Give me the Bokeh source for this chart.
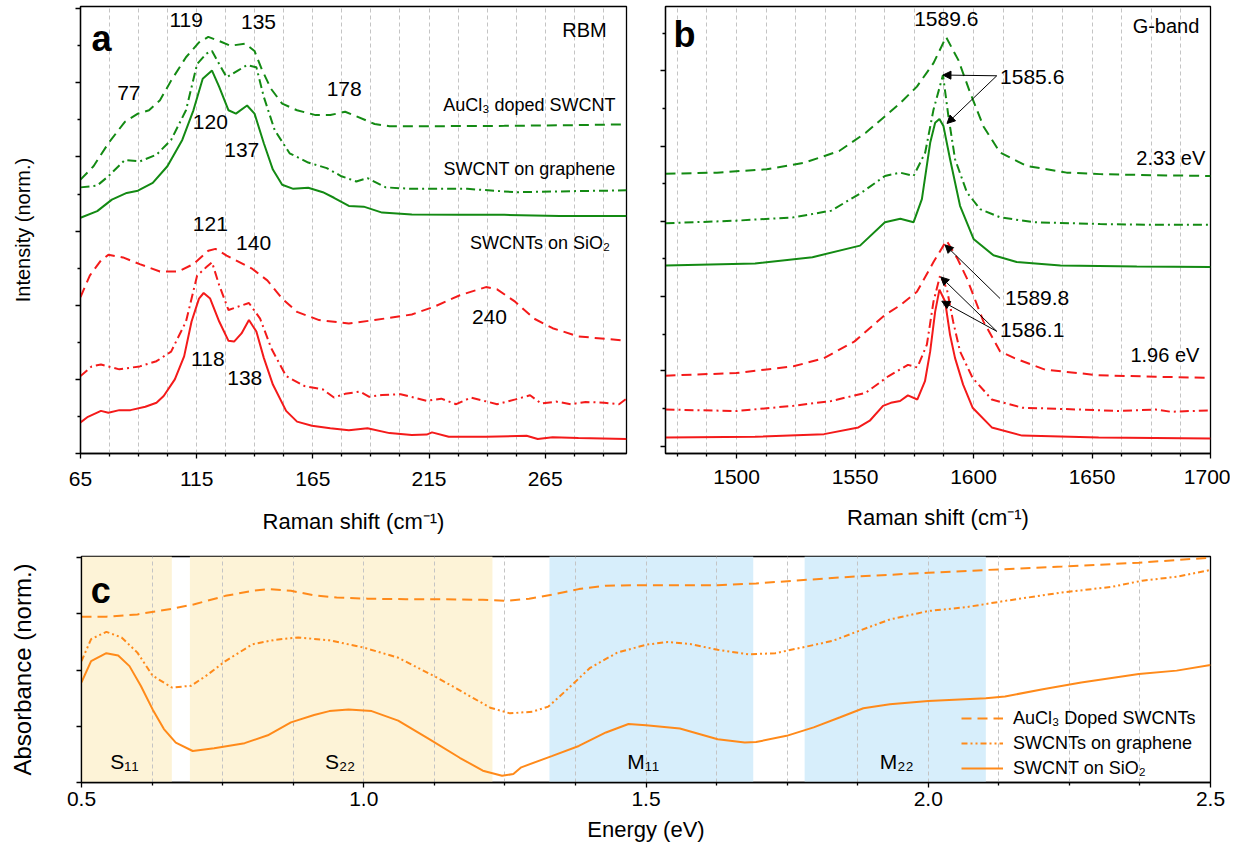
import math
from bokeh.plotting import figure
from bokeh.models import (Range1d, FixedTicker, CustomJSTickFormatter, Arrow,
                          NormalHead, ColumnDataSource, NumeralTickFormatter)
from bokeh.layouts import column, row
from bokeh.embed import file_html
from bokeh.resources import INLINE
from bokeh.core.properties import value

FONT = "Liberation Sans"
GREEN = "#138a13"
RED = "#f41a1a"
ORANGE = "#ff8a1a"
GRID = "#c4c4c4"
DASH = "10 6"
DASHDOT = "9 4 2 4"
DASHDOTDOT = "6 3 2 3 2 3"

# ---------------- Panel a : RBM ----------------
a_x_doped = [65, 70.6, 77, 84.1, 89.7, 94.5, 99.2, 104, 110.4, 116, 120, 124.7, 129.5, 135.9, 139.9,
             143, 147, 151.8, 158.2, 166.2, 172.5, 178.9, 183.7, 191.6, 198, 215.5, 247.4, 279.3, 300]
a_y_doped = [7.39, 7.75, 8.37, 8.95, 9.17, 9.26, 9.53, 10.06, 10.69, 11.09, 11.24, 11.13, 11.0, 11.06, 10.86,
             10.37, 9.84, 9.44, 9.26, 9.13, 9.13, 9.22, 9.1, 8.89, 8.83, 8.83, 8.84, 8.86, 8.88]
a_x_graph = [65, 72.2, 77, 84.1, 90.5, 97.7, 104, 110.4, 115.2, 119.2, 121.6, 124.7, 127.9, 132.7, 136.7,
             140.7, 143.9, 148.6, 155, 163, 171, 177.3, 183.7, 188.5, 196.4, 207.6, 231.5, 252.2, 279.3, 300]
a_y_graph = [7.18, 7.23, 7.48, 7.92, 7.88, 8.06, 8.46, 9.26, 10.51, 10.79, 10.86, 10.51, 10.15, 10.33, 10.48,
             10.42, 9.62, 8.72, 8.10, 7.85, 7.70, 7.48, 7.34, 7.43, 7.18, 7.14, 7.14, 7.05, 7.08, 7.10]
a_x_sio2 = [65, 72.2, 78.5, 84.9, 89.7, 96.1, 102.4, 108.8, 113.6, 117.6, 121.6, 124.7, 128.7, 131.9, 136.7,
            139.9, 143.9, 147.8, 151.8, 156.6, 163, 169.3, 174.1, 180.5, 186.9, 194.8, 207.6, 228.3, 247.4, 271.3, 300]
a_y_sio2 = [6.36, 6.54, 6.85, 7.03, 7.09, 7.30, 7.75, 8.46, 9.26, 10.11, 10.33, 9.89, 9.26, 9.17, 9.39,
            9.17, 8.37, 7.66, 7.25, 7.14, 7.17, 7.05, 6.90, 6.68, 6.66, 6.50, 6.45, 6.44, 6.44, 6.41, 6.41]
a_x_rdoped = [65, 69, 73.8, 77, 83.3, 90.5, 99.2, 107.2, 113.6, 120, 123.1, 127.9, 139, 145.4, 151.8, 158.2,
              167.7, 180.5, 191.6, 207.6, 217.2, 228.3, 239.5, 244.3, 252.2, 260.2, 268.2, 279.3, 300]
a_y_rdoped = [4.22, 4.80, 5.21, 5.36, 5.29, 5.11, 4.91, 4.91, 5.11, 5.47, 5.52, 5.34, 4.98, 4.67, 4.18, 3.82,
              3.60, 3.51, 3.60, 3.75, 3.96, 4.27, 4.49, 4.43, 4.09, 3.64, 3.38, 3.16, 3.04]
a_x_rgraph = [65, 69.8, 73.8, 81.7, 90.5, 97.7, 104, 110.4, 115.2, 119.2, 121.6, 124.7, 128.7, 132.7, 137.5,
              142.3, 147.1, 153.5, 161.4, 169.3, 174.1, 178.9, 185.3, 189.3, 194.8, 202.8, 214, 220.3, 226.7,
              233.1, 244.3, 252.2, 258.5, 263.3, 269.7, 276.1, 282.4, 290.4, 296.8, 300]
a_y_rgraph = [2.09, 2.35, 2.40, 2.27, 2.35, 2.49, 2.75, 3.56, 4.80, 5.03, 5.16, 4.54, 3.87, 3.96, 4.06,
              3.64, 2.84, 2.09, 1.82, 1.73, 1.51, 1.61, 1.67, 1.53, 1.58, 1.60, 1.42, 1.48, 1.33,
              1.51, 1.33, 1.46, 1.57, 1.35, 1.40, 1.33, 1.39, 1.37, 1.33, 1.48]
a_x_rsio2 = [65, 68.2, 73.8, 77, 81.7, 86.5, 92.9, 97.7, 100.8, 105.6, 109.6, 112.8, 116, 118, 120.8, 124.7,
             128.7, 131.1, 134.3, 137.5, 140.7, 143.9, 147.8, 153.5, 158.2, 164.6, 172.5, 180.5, 188.5, 198,
             207.6, 214, 216.3, 223.5, 239.5, 257, 261.8, 268.2, 279.3, 300]
a_y_rsio2 = [0.84, 0.99, 1.15, 1.10, 1.17, 1.17, 1.26, 1.37, 1.55, 2.00, 2.62, 3.56, 4.18, 4.33, 4.18, 3.56,
             3.04, 3.02, 3.24, 3.60, 3.29, 2.58, 1.86, 1.15, 0.86, 0.75, 0.68, 0.63, 0.68, 0.55,
             0.50, 0.51, 0.57, 0.45, 0.45, 0.48, 0.39, 0.44, 0.42, 0.39]

a_xticks = [65, 115, 165, 215, 265]
a_xminor = [77.5, 90, 102.5, 127.5, 140, 152.5, 177.5, 190, 202.5, 227.5, 240, 252.5, 277.5, 290]
a_yticks = [0, 2, 4, 6, 8, 10, 12]
a_yminor = [1, 3, 5, 7, 9, 11]

a_num_text = ["77", "119", "135", "178", "120", "137", "121", "140", "240", "118", "138"]
a_num_x = [85.8, 110.5, 141.6, 178.5, 120.9, 134.4, 120.9, 139.5, 241.0, 119.8, 135.7]
a_num_y = [9.73, 11.69, 11.64, 9.84, 8.94, 8.20, 6.20, 5.68, 3.68, 2.56, 2.03]
a_name_text = ["RBM", "AuCl\u2083 doped SWCNT", "SWCNT on graphene", "SWCNTs on SiO\u2082"]
a_name_x = [291.5, 295.3, 295.3, 292.9]
a_name_y = [11.43, 9.39, 7.68, 5.67]
a_name_size = ["20px", "18px", "18px", "18px"]

# ---------------- Panel b : G-band ----------------
b_x_gdash = [1470, 1491.7, 1512.7, 1528.8, 1543.3, 1554.5, 1564.2, 1569.1, 1576.1, 1583.1, 1588.4, 1593.6,
             1598.6, 1604.2, 1611.2, 1622.4, 1639.3, 1653.4, 1676.9, 1700]
b_y_gdash = [7.48, 7.51, 7.60, 7.78, 8.09, 8.58, 9.11, 9.38, 9.82, 10.45, 11.15, 10.53,
             9.65, 8.75, 8.05, 7.69, 7.51, 7.47, 7.44, 7.42]
b_x_gdd = [1470, 1499.8, 1524, 1540, 1552.9, 1562.6, 1569, 1574.7, 1579.6, 1583.1, 1587.1, 1589.4,
           1592.2, 1597.2, 1602.8, 1611.2, 1625.2, 1653.4, 1676.9, 1700]
b_y_gdd = [6.15, 6.22, 6.31, 6.49, 6.98, 7.42, 7.51, 7.42, 8.05, 9.2, 10.13, 9.02,
           7.87, 6.98, 6.53, 6.31, 6.18, 6.13, 6.11, 6.11]
b_x_gsol = [1470, 1507.8, 1532, 1552.1, 1562.6, 1569.1, 1574.7, 1578.2, 1581.7, 1583.8, 1585.6, 1587.3,
            1590.1, 1594.3, 1600, 1608.4, 1618.2, 1636.7, 1668.9, 1700]
b_y_gsol = [5.02, 5.07, 5.24, 5.55, 6.18, 6.27, 6.18, 6.8, 8.31, 8.85, 8.95, 8.76,
            7.87, 6.62, 5.73, 5.29, 5.11, 5.02, 4.99, 4.98]
b_x_rdash = [1470, 1499.8, 1524, 1536.9, 1549.8, 1562.6, 1569.1, 1576.1, 1583.1, 1588.6, 1593.2, 1597.2,
             1604.2, 1611.2, 1617.3, 1630.2, 1652.8, 1676.9, 1700]
b_y_rdash = [2.06, 2.13, 2.31, 2.53, 2.98, 3.69, 3.95, 4.31, 5.11, 5.69, 5.2, 4.67,
             3.51, 2.71, 2.53, 2.22, 2.07, 2.03, 2.0]
b_x_rdd = [1470, 1499.8, 1524, 1540, 1554.5, 1564.2, 1572.3, 1576.3, 1580.3, 1583.1, 1585.9, 1588.7,
           1591.4, 1594.3, 1599.6, 1607.7, 1620.5, 1644.7, 1660.8, 1676.9, 1683.3, 1700]
b_y_rdd = [1.15, 1.11, 1.25, 1.38, 1.6, 2.05, 2.35, 2.28, 2.89, 4.05, 4.75, 4.4,
           3.51, 2.71, 2.0, 1.42, 1.2, 1.15, 1.11, 1.15, 1.09, 1.13]
b_x_rsol = [1470, 1507.8, 1536.9, 1551.4, 1556.2, 1561.8, 1565.1, 1569, 1572.3, 1576.3, 1579.5, 1581.7,
            1583.8, 1585.6, 1588, 1590.1, 1592.2, 1595.6, 1599.6, 1607.7, 1620.5, 1652.8, 1700]
b_y_rsol = [0.40, 0.42, 0.49, 0.67, 0.85, 1.25, 1.33, 1.38, 1.53, 1.42, 1.91, 2.71,
            3.78, 4.37, 4.05, 3.15, 2.53, 1.82, 1.2, 0.67, 0.45, 0.4, 0.37]

b_xticks = [1500, 1550, 1600, 1650, 1700]
b_xminor = [1475, 1487.5, 1512.5, 1525, 1537.5, 1562.5, 1575, 1587.5, 1612.5, 1625, 1637.5,
            1662.5, 1675, 1687.5]
b_yticks = [0.16, 2.19, 4.19, 6.21, 8.21, 10.24]
b_yminor = [1.17, 3.17, 5.2, 7.23, 9.23, 11.25]

b_center_text = ["1589.6"]
b_center_x = [1588.5]
b_center_y = [11.63]
b_left_text = ["1585.6", "1589.8", "1586.1"]
b_left_x = [1611.2, 1613.3, 1611.2]
b_left_y = [10.08, 4.15, 3.28]
b_right_text = ["G-band", "2.33 eV", "1.96 eV"]
b_right_x = [1695.3, 1697.8, 1695.3]
b_right_y = [11.45, 7.91, 2.62]

b_arrow_x0 = [1609.8, 1609.8, 1611.2, 1609.8, 1609.8]
b_arrow_y0 = [10.11, 10.11, 4.13, 3.25, 3.25]
b_arrow_x1 = [1587.1, 1588.8, 1588.0, 1586.2, 1586.6]
b_arrow_y1 = [10.13, 8.83, 5.57, 4.71, 4.06]

# ---------------- Panel c : absorbance ----------------
c_x_doped = [0.5, 0.544, 0.599, 0.66, 0.70, 0.755, 0.803, 0.833, 0.871, 0.912, 0.952, 1.007, 1.075, 1.143,
             1.211, 1.252, 1.293, 1.333, 1.381, 1.429, 1.483, 1.56, 1.627, 1.695, 1.763, 1.864, 2.0, 2.102,
             2.237, 2.373, 2.5]
c_y_doped = [2.95, 2.95, 2.99, 3.09, 3.17, 3.32, 3.41, 3.44, 3.41, 3.33, 3.29, 3.27, 3.26, 3.26,
             3.25, 3.23, 3.27, 3.34, 3.44, 3.50, 3.51, 3.51, 3.51, 3.54, 3.59, 3.66, 3.73, 3.78,
             3.84, 3.91, 4.0]
c_x_graph = [0.5, 0.517, 0.544, 0.571, 0.599, 0.626, 0.66, 0.694, 0.721, 0.755, 0.803, 0.844, 0.884, 0.939,
             1.0, 1.061, 1.129, 1.177, 1.224, 1.259, 1.299, 1.327, 1.361, 1.401, 1.449, 1.5, 1.539, 1.58,
             1.627, 1.682, 1.729, 1.776, 1.831, 1.878, 1.932, 2.0, 2.068, 2.136, 2.237, 2.325, 2.379, 2.44, 2.5]
c_y_graph = [2.16, 2.55, 2.68, 2.58, 2.31, 1.90, 1.69, 1.72, 1.90, 2.16, 2.46, 2.54, 2.58, 2.53,
             2.40, 2.22, 1.87, 1.60, 1.33, 1.23, 1.26, 1.35, 1.66, 2.04, 2.31, 2.45, 2.50, 2.46,
             2.36, 2.28, 2.30, 2.40, 2.52, 2.70, 2.90, 3.05, 3.12, 3.23, 3.38, 3.48, 3.59, 3.66, 3.78]
c_x_sio2 = [0.5, 0.517, 0.544, 0.565, 0.585, 0.605, 0.626, 0.646, 0.667, 0.697, 0.735, 0.789, 0.830, 0.871,
            0.912, 0.939, 0.973, 1.014, 1.061, 1.116, 1.170, 1.211, 1.245, 1.265, 1.279, 1.333, 1.381, 1.429,
            1.469, 1.5, 1.56, 1.627, 1.675, 1.695, 1.749, 1.797, 1.844, 1.885, 1.932, 2.0, 2.102, 2.136,
            2.203, 2.271, 2.373, 2.44, 2.5]
c_y_sio2 = [1.78, 2.16, 2.30, 2.26, 2.07, 1.72, 1.30, 0.95, 0.71, 0.56, 0.61, 0.70, 0.84, 1.07,
            1.20, 1.27, 1.30, 1.27, 1.10, 0.77, 0.44, 0.21, 0.12, 0.15, 0.27, 0.47, 0.65, 0.89,
            1.04, 1.02, 0.96, 0.77, 0.71, 0.72, 0.83, 0.98, 1.16, 1.32, 1.39, 1.45, 1.50, 1.53,
            1.66, 1.78, 1.93, 1.99, 2.09]

c_band_left = [0.5, 0.692, 1.329, 1.781]
c_band_right = [0.66, 1.228, 1.69, 2.102]
c_band_color = ["#fdf3d7", "#fdf3d7", "#d7eefb", "#d7eefb"]
c_band_text = ["S\u2081\u2081", "S\u2082\u2082", "M\u2081\u2081", "M\u2082\u2082"]
c_band_tx = [0.576, 0.958, 1.495, 1.944]
c_band_ty = [0.38, 0.38, 0.38, 0.38]

c_xticks = [0.5, 1.0, 1.5, 2.0, 2.5]
c_xminor = [0.625, 0.75, 0.875, 1.125, 1.25, 1.375, 1.625, 1.75, 1.875, 2.125, 2.25, 2.375]
c_yticks = [0, 1, 2, 3, 4]
c_legend = ["AuCl\u2083 Doped SWCNTs", "SWCNTs on graphene", "SWCNT on SiO\u2082"]


def make_fig(width, height, left, right, top, bottom, xr, yr, xticks, xminor, yticks, yminor):
    p = figure(width=width, height=height, x_range=Range1d(*xr), y_range=Range1d(*yr),
               output_backend="svg", toolbar_location=None,
               min_border_left=left, min_border_right=right,
               min_border_top=top, min_border_bottom=bottom)
    p.background_fill_color = "white"
    p.border_fill_color = "white"
    p.outline_line_color = "black"
    p.outline_line_width = 1.3
    p.outline_line_alpha = 1.0
    p.ygrid.visible = False
    p.xaxis.ticker = FixedTicker(ticks=xticks, minor_ticks=xminor)
    p.yaxis.ticker = FixedTicker(ticks=yticks, minor_ticks=yminor)
    p.yaxis.formatter = CustomJSTickFormatter(code="return ''")
    p.yaxis.major_label_standoff = 0
    p.xgrid.grid_line_color = GRID
    p.xgrid.grid_line_dash = "4 3"
    p.xgrid.grid_line_width = 1
    p.xgrid.minor_grid_line_color = GRID
    p.xgrid.minor_grid_line_dash = "4 3"
    p.xgrid.minor_grid_line_width = 1
    for ax in (p.xaxis[0], p.yaxis[0]):
        ax.axis_line_color = "black"
        ax.axis_line_width = 1.3
        ax.major_tick_line_color = "black"
        ax.major_tick_line_width = 1.3
        ax.major_tick_out = 5
        ax.major_tick_in = 0
        ax.minor_tick_line_color = "black"
        ax.minor_tick_line_width = 1.3
        ax.minor_tick_out = 3
        ax.minor_tick_in = 0
        ax.major_label_text_font = FONT
        ax.major_label_text_font_size = "21px"
        ax.major_label_text_color = "black"
        ax.axis_label_text_font = FONT
        ax.axis_label_text_font_size = "22px"
        ax.axis_label_text_font_style = "normal"
        ax.axis_label_text_color = "black"
    return p


def add_text(p, xs, ys, texts, size, align, baseline="middle", style="normal"):
    src = ColumnDataSource(dict(x=xs, y=ys, t=texts))
    p.text(x="x", y="y", text="t", source=src, text_font=value(FONT), text_font_size=size,
           text_align=align, text_baseline=baseline, text_color="black", text_font_style=style)


# ---- panel a
pa = make_fig(635, 548, 80, 9, 1, 95, (65, 300), (0, 12.06), a_xticks, a_xminor, a_yticks, a_yminor)
pa.line(a_x_doped, a_y_doped, line_color=GREEN, line_width=2, line_dash=DASH)
pa.line(a_x_graph, a_y_graph, line_color=GREEN, line_width=2, line_dash=DASHDOT)
pa.line(a_x_sio2, a_y_sio2, line_color=GREEN, line_width=2)
pa.line(a_x_rdoped, a_y_rdoped, line_color=RED, line_width=2, line_dash=DASH)
pa.line(a_x_rgraph, a_y_rgraph, line_color=RED, line_width=2, line_dash=DASHDOT)
pa.line(a_x_rsio2, a_y_rsio2, line_color=RED, line_width=2)
add_text(pa, a_num_x, a_num_y, a_num_text, "21px", "center")
for t, x, y, s in zip(a_name_text, a_name_x, a_name_y, a_name_size):
    add_text(pa, [x], [y], [t], s, "right")
add_text(pa, [74], [11.2], ["a"], "36px", "center", "middle", "bold")
pa.xaxis.axis_label = "Raman shift (cm\u207b\u00b9)"
pa.xaxis.major_label_standoff = 13
pa.xaxis.axis_label_standoff = 20
pa.yaxis.axis_label = "Intensity (norm.)"
pa.yaxis.axis_label_text_font_size = "20px"
pa.yaxis.axis_label_standoff = 42

# ---- panel b
pb = make_fig(595, 548, 30, 20, 6, 92, (1470, 1700), (-0.03, 11.97), b_xticks, b_xminor, b_yticks, b_yminor)
pb.line(b_x_gdash, b_y_gdash, line_color=GREEN, line_width=2, line_dash=DASH)
pb.line(b_x_gdd, b_y_gdd, line_color=GREEN, line_width=2, line_dash=DASHDOT)
pb.line(b_x_gsol, b_y_gsol, line_color=GREEN, line_width=2)
pb.line(b_x_rdash, b_y_rdash, line_color=RED, line_width=2, line_dash=DASH)
pb.line(b_x_rdd, b_y_rdd, line_color=RED, line_width=2, line_dash=DASHDOT)
pb.line(b_x_rsol, b_y_rsol, line_color=RED, line_width=2)
add_text(pb, b_center_x, b_center_y, b_center_text, "21px", "center")
add_text(pb, b_left_x, b_left_y, b_left_text, "21px", "left")
add_text(pb, b_right_x, b_right_y, b_right_text, "20px", "right")
add_text(pb, [1478], [11.22], ["b"], "36px", "center", "middle", "bold")
arrow_src = ColumnDataSource(dict(x0=b_arrow_x0, y0=b_arrow_y0, x1=b_arrow_x1, y1=b_arrow_y1))
pb.add_layout(Arrow(end=NormalHead(size=8, fill_color="black", line_color="black", line_width=1),
                    x_start="x0", y_start="y0", x_end="x1", y_end="y1", source=arrow_src,
                    line_color="black", line_width=1))
pb.xaxis.axis_label = "Raman shift (cm\u207b\u00b9)"
pb.xaxis.major_label_standoff = 11
pb.xaxis.axis_label_standoff = 18

# ---- panel c
pc = make_fig(1230, 301, 81, 20, 8, 67, (0.5, 2.5), (0, 4.02), c_xticks, c_xminor, c_yticks, [])
pc.quad(left=c_band_left, right=c_band_right, bottom=0, top=4.02, fill_color=c_band_color,
        line_color=None, level="image")
pc.line(c_x_doped, c_y_doped, line_color=ORANGE, line_width=2, line_dash=DASH, legend_label=c_legend[0])
pc.line(c_x_graph, c_y_graph, line_color=ORANGE, line_width=2, line_dash=DASHDOTDOT, legend_label=c_legend[1])
pc.line(c_x_sio2, c_y_sio2, line_color=ORANGE, line_width=2, legend_label=c_legend[2])
add_text(pc, c_band_tx, c_band_ty, c_band_text, "21px", "center")
add_text(pc, [0.534], [3.41], ["c"], "36px", "center", "middle", "bold")
pc.xaxis.formatter = NumeralTickFormatter(format="0.0")
pc.xaxis.axis_label = "Energy (eV)"
pc.xaxis.major_label_standoff = 4
pc.xaxis.axis_label_standoff = 8
pc.yaxis.axis_label = "Absorbance (norm.)"
pc.yaxis.axis_label_text_font_size = "24px"
pc.yaxis.axis_label_standoff = 41
pc.legend.location = (880, 3)
pc.legend.background_fill_alpha = 0
pc.legend.border_line_alpha = 0
pc.legend.padding = 0
pc.legend.margin = 0
pc.legend.spacing = 3
pc.legend.glyph_width = 42
pc.legend.glyph_height = 22
pc.legend.label_height = 22
pc.legend.label_standoff = 10
pc.legend.label_text_font = FONT
pc.legend.label_text_font_size = "18px"
pc.legend.label_text_color = "black"

layout = column(row(pa, pb), pc)
open("out.html", "w").write(file_html(layout, INLINE))
